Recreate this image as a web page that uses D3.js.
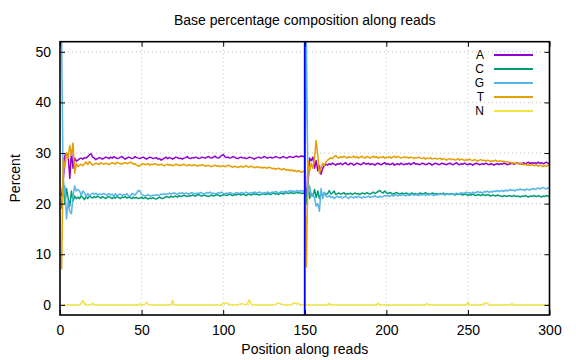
<!DOCTYPE html>
<html>
<head>
<meta charset="utf-8">
<script src="https://cdn.jsdelivr.net/npm/d3@7"></script>
<style>
  html, body { margin: 0; padding: 0; background: #fff; }
  svg { display: block; }
  text { font-family: "Liberation Sans", Arial, sans-serif; fill: #000; }
</style>
</head>
<body>
<div id="chart"></div>
<script>
// ---------- DATA ----------
const title = "Base percentage composition along reads";
const xLabel = "Position along reads";
const yLabel = "Percent";
const xTicks = [0, 50, 100, 150, 200, 250, 300];
const yTicks = [0, 10, 20, 30, 40, 50];
const readBoundary = 150;
const seriesNames = ["A", "C", "G", "T", "N"];
const seriesColors = ["#9400d3", "#009e73", "#56b4e9", "#e69f00", "#f0e442"];

const positions = d3.range(1, 301);

const baseA = [
  21.5, 24.5, 29.5, 30.0, 29.5, 25.0, 30.2, 27.0, 29.0, 28.4,
  28.6, 28.9, 29.0, 28.8, 29.1, 29.0, 29.3, 29.6, 29.9, 29.2,
  29.0, 28.7, 28.9, 29.1, 29.0, 28.8, 29.0, 29.2, 29.1, 28.9,
  29.2, 29.0, 29.3, 29.1, 28.9, 29.0, 29.2, 29.3, 29.0, 28.8,
  29.0, 29.2, 29.1, 28.9, 29.0, 29.3, 29.1, 29.0, 28.9, 29.1,
  29.2, 29.0, 28.8, 29.0, 29.2, 29.1, 28.9, 29.0, 29.1, 28.8,
  28.9, 28.6, 28.8, 29.0, 29.2, 28.9, 29.1, 29.0, 28.8, 29.0,
  29.2, 29.1, 28.9, 29.0, 28.8, 29.0, 29.1, 29.3, 29.0, 28.9,
  29.1, 29.0, 29.2, 29.1, 28.9, 29.0, 29.2, 29.1, 29.0, 29.2,
  29.3, 29.1, 29.0, 29.2, 29.4, 29.1, 29.0, 29.2, 29.5, 29.7,
  29.3, 29.1, 29.2, 29.0, 29.1, 29.3, 29.2, 29.0, 28.9, 29.1,
  29.2, 29.0, 29.1, 28.9, 29.0, 29.2, 29.1, 29.0, 28.8, 29.0,
  29.1, 29.2, 29.0, 29.1, 29.3, 29.2, 29.0, 29.1, 29.2, 29.0,
  29.1, 29.3, 29.2, 29.1, 29.0, 29.2, 29.3, 29.1, 29.0, 29.2,
  29.3, 29.2, 29.1, 29.3, 29.4, 29.2, 29.3, 29.4, 29.3, 29.4,
  20.0, 24.0, 29.0, 28.5, 29.2, 27.0, 28.5, 26.5, 27.5, 25.8,
  27.0, 27.5, 27.8, 27.6, 27.9, 27.7, 28.0, 27.8, 27.6, 27.9,
  27.8, 28.0, 27.7, 27.9, 28.1, 27.8, 27.7, 28.0, 27.9, 27.6,
  27.8, 28.0, 27.9, 27.7, 27.8, 28.1, 27.9, 27.8, 28.0, 27.7,
  27.9, 27.8, 27.6, 27.9, 28.0, 27.8, 27.7, 27.9, 28.1, 27.8,
  27.9, 27.7, 27.8, 28.0, 27.6, 27.8, 27.9, 27.7, 28.0, 27.8,
  27.7, 27.9, 27.8, 28.0, 27.7, 27.9, 28.1, 27.8, 27.9, 27.7,
  27.8, 28.0, 27.9, 27.7, 27.8, 28.0, 27.9, 27.6, 27.8, 28.0,
  27.9, 27.7, 27.8, 28.0, 27.9, 27.8, 27.7, 27.9, 28.0, 27.8,
  27.7, 27.9, 28.1, 27.8, 27.7, 27.9, 27.8, 28.0, 27.8, 27.7,
  27.9, 27.8, 27.6, 27.8, 28.0, 27.9, 27.7, 27.8, 27.9, 27.8,
  28.0, 27.8, 27.7, 27.9, 27.8, 27.6, 27.8, 27.9, 27.7, 27.9,
  27.8, 28.0, 27.9, 27.7, 27.8, 27.9, 28.0, 27.8, 27.9, 28.1,
  27.9, 28.0, 27.8, 28.1, 27.9, 28.0, 28.2, 27.9, 28.1, 28.0,
  28.1, 27.9, 28.2, 28.0, 28.1, 27.9, 28.0, 28.2, 28.0, 27.9
];

const baseC = [
  19.0, 25.0, 20.0, 23.0, 21.0, 19.5, 22.5, 20.5, 21.5, 21.0,
  21.3, 21.0, 21.6, 21.2, 20.8, 21.4, 21.0, 21.5, 21.3, 21.1,
  21.4, 21.2, 21.5, 21.3, 21.1, 21.4, 21.2, 21.0, 21.3, 21.4,
  21.2, 21.0, 21.3, 21.1, 21.4, 21.2, 21.0, 21.3, 21.2, 21.4,
  21.1, 21.3, 21.2, 21.0, 21.3, 21.1, 21.2, 21.0, 21.1, 21.3,
  21.0, 21.2, 21.1, 20.9, 21.1, 21.0, 21.2, 21.0, 20.9, 21.1,
  21.3, 21.1, 21.0, 21.2, 21.4, 21.3, 21.2, 21.5, 21.3, 21.4,
  21.5, 21.3, 21.6, 21.4, 21.5, 21.7, 21.5, 21.4, 21.6, 21.5,
  21.7, 21.6, 21.5, 21.7, 21.8, 21.6, 21.5, 21.7, 21.6, 21.5,
  21.4, 21.6, 21.7, 21.5, 21.6, 21.8, 21.7, 21.5, 21.6, 21.7,
  21.8, 21.6, 21.7, 21.9, 21.7, 21.6, 21.8, 21.7, 21.9, 21.8,
  21.7, 21.9, 21.8, 21.6, 21.8, 21.9, 21.7, 21.8, 22.0, 21.8,
  21.9, 21.7, 21.8, 22.0, 21.9, 21.8, 22.0, 21.9, 21.8, 22.0,
  22.1, 21.9, 22.0, 21.8, 22.1, 22.0, 21.9, 22.1, 22.2, 22.0,
  22.1, 22.2, 22.0, 22.1, 22.3, 22.1, 22.2, 22.0, 22.1, 22.0,
  20.0, 24.5, 21.0, 22.0, 21.5, 22.8, 21.2, 22.5, 21.0, 22.0,
  21.5, 22.2, 21.8, 22.0, 22.6, 21.9, 22.1, 22.5, 21.8, 22.0,
  22.1, 21.9, 22.0, 22.2, 21.8, 22.0, 21.9, 22.1, 21.8, 22.0,
  22.1, 21.9, 22.0, 21.8, 22.1, 22.0, 21.9, 22.2, 22.0, 21.9,
  22.1, 22.3, 22.0, 22.2, 22.4, 22.6, 22.3, 22.1, 22.5, 22.2,
  22.0, 22.2, 22.1, 21.9, 22.0, 22.2, 22.1, 21.9, 22.0, 22.1,
  21.9, 22.1, 22.0, 21.8, 22.0, 22.1, 21.9, 22.0, 21.8, 22.0,
  22.1, 21.9, 22.0, 22.2, 21.9, 22.0, 21.8, 22.1, 22.0, 21.9,
  22.0, 21.8, 22.0, 21.9, 22.1, 21.8, 22.0, 21.9, 21.8, 22.0,
  21.9, 21.7, 21.9, 21.8, 22.0, 21.8, 21.7, 21.9, 21.8, 21.6,
  21.8, 21.7, 21.9, 21.7, 21.6, 21.8, 21.7, 21.6, 21.8, 21.7,
  21.6, 21.8, 21.7, 21.5, 21.7, 21.6, 21.5, 21.7, 21.6, 21.5,
  21.4, 21.6, 21.5, 21.4, 21.6, 21.5, 21.4, 21.6, 21.5, 21.4,
  21.5, 21.3, 21.5, 21.4, 21.6, 21.5, 21.3, 21.5, 21.4, 21.6,
  21.5, 21.4, 21.6, 21.5, 21.3, 21.5, 21.4, 21.6, 21.5, 21.4
];

const baseG = [
  52.5, 21.5, 23.5, 17.0, 20.5, 18.5, 18.0, 21.5, 23.5, 22.5,
  22.8, 22.5, 21.6, 22.5, 22.2, 21.4, 22.0, 21.6, 21.8, 22.1,
  21.8, 22.1, 21.7, 21.9, 21.8, 21.9, 22.0, 21.8, 21.7, 22.0,
  21.7, 21.9, 21.4, 22.0, 21.5, 21.8, 21.9, 21.6, 21.8, 21.7,
  22.0, 21.5, 21.5, 22.0, 21.9, 21.7, 22.1, 22.6, 22.5, 21.8,
  21.7, 21.5, 21.6, 21.8, 21.6, 21.5, 21.7, 21.6, 21.8, 21.6,
  21.7, 21.9, 21.8, 22.0, 21.8, 21.9, 22.1, 21.9, 22.0, 22.1,
  22.0, 21.8, 22.1, 22.0, 22.2, 21.9, 22.1, 22.0, 21.9, 22.1,
  22.2, 22.0, 21.9, 22.1, 22.0, 22.2, 22.1, 21.9, 22.0, 22.2,
  22.1, 22.3, 22.0, 22.1, 21.9, 22.0, 22.2, 22.1, 22.3, 22.0,
  21.9, 22.1, 22.0, 22.2, 22.1, 21.9, 22.0, 22.2, 22.1, 22.0,
  22.2, 22.1, 22.0, 22.3, 22.1, 22.0, 22.2, 22.1, 22.3, 22.2,
  22.1, 22.3, 22.2, 22.0, 22.2, 22.1, 22.3, 22.2, 22.1, 22.3,
  22.2, 22.4, 22.3, 22.1, 22.3, 22.4, 22.2, 22.5, 22.3, 22.4,
  22.6, 22.4, 22.5, 22.3, 22.6, 22.5, 22.4, 22.6, 22.5, 22.4,
  52.5, 22.0, 23.5, 21.5, 22.0, 21.0, 19.5, 20.0, 18.5, 23.0,
  21.0, 22.2, 21.5, 21.3, 21.6, 21.2, 21.4, 21.0, 21.3, 21.5,
  21.2, 21.4, 21.1, 21.3, 21.5, 21.2, 21.0, 21.4, 21.3, 21.1,
  21.4, 21.2, 21.5, 21.3, 21.1, 21.4, 21.2, 21.3, 21.5, 21.2,
  21.4, 21.3, 21.6, 21.4, 21.2, 21.5, 21.3, 21.4, 21.6, 21.5,
  21.6, 21.4, 21.7, 21.5, 21.6, 21.8, 21.5, 21.7, 21.6, 21.8,
  21.7, 21.5, 21.8, 21.6, 21.7, 21.9, 21.6, 21.8, 21.7, 21.6,
  21.8, 21.7, 21.9, 21.6, 21.8, 21.7, 21.9, 21.8, 21.6, 21.8,
  21.7, 21.9, 21.8, 22.0, 21.8, 21.7, 21.9, 21.8, 22.0, 21.9,
  22.0, 21.8, 22.1, 21.9, 22.0, 22.2, 22.0, 22.1, 22.3, 22.1,
  22.2, 22.0, 22.3, 22.1, 22.2, 22.4, 22.2, 22.3, 22.1, 22.4,
  22.3, 22.5, 22.2, 22.4, 22.3, 22.5, 22.4, 22.6, 22.4, 22.5,
  22.6, 22.4, 22.7, 22.5, 22.6, 22.8, 22.6, 22.7, 22.5, 22.8,
  22.7, 22.9, 22.7, 22.8, 22.6, 22.9, 22.8, 22.7, 22.9, 23.0,
  22.8, 22.9, 23.1, 22.9, 23.0, 23.2, 23.0, 22.9, 23.1, 23.0
];

const baseT = [
  7.0, 29.0, 27.0, 30.0, 29.0, 31.5, 29.5, 32.0, 26.0, 28.0,
  27.3, 27.6, 27.8, 27.5, 27.9, 28.2, 27.7, 28.3, 28.0, 27.6,
  27.8, 28.0, 27.9, 27.7, 28.1, 27.9, 27.8, 28.0, 27.9, 27.7,
  27.9, 28.1, 28.0, 27.8, 28.2, 28.0, 27.9, 27.8, 28.0, 28.1,
  27.9, 28.0, 28.2, 28.1, 27.8, 27.9, 27.6, 27.4, 27.5, 27.8,
  27.9, 27.7, 27.8, 27.9, 27.6, 27.8, 27.7, 27.9, 27.8, 27.6,
  27.7, 27.8, 27.6, 27.5, 27.7, 27.8, 27.6, 27.7, 27.5, 27.6,
  27.8, 27.7, 27.5, 27.6, 27.7, 27.8, 27.6, 27.5, 27.7, 27.6,
  27.5, 27.7, 27.6, 27.4, 27.6, 27.5, 27.7, 27.6, 27.4, 27.5,
  27.6, 27.4, 27.3, 27.5, 27.6, 27.4, 27.5, 27.3, 27.4, 27.5,
  27.3, 27.4, 27.6, 27.5, 27.3, 27.2, 27.4, 27.3, 27.1, 27.3,
  27.4, 27.2, 27.3, 27.5, 27.3, 27.2, 27.4, 27.3, 27.1, 27.2,
  27.3, 27.1, 27.2, 27.0, 27.2, 27.1, 27.0, 27.2, 27.1, 26.9,
  27.0, 26.8, 26.9, 27.0, 26.8, 26.7, 26.9, 26.8, 26.6, 26.7,
  26.5, 26.7, 26.4, 26.6, 26.3, 26.5, 26.4, 26.2, 26.4, 26.3,
  7.5, 28.5, 26.5, 28.0, 27.0, 29.0, 32.5, 29.5, 26.0, 27.0,
  28.0, 27.6, 28.2, 28.6, 28.8, 29.1, 28.9, 29.3, 29.5, 29.2,
  29.0, 29.3, 29.1, 29.4, 29.2, 29.0, 29.3, 29.1, 29.2, 29.4,
  29.1, 29.3, 29.0, 29.2, 29.4, 29.1, 29.0, 29.3, 29.2, 29.0,
  29.2, 29.4, 29.1, 29.3, 29.0, 29.2, 29.1, 29.3, 29.0, 29.2,
  29.1, 29.3, 29.0, 29.2, 29.4, 29.1, 29.3, 29.2, 29.0, 29.1,
  29.3, 29.1, 29.2, 29.0, 29.2, 29.1, 28.9, 29.1, 29.0, 29.2,
  29.0, 28.9, 29.1, 28.8, 29.0, 28.9, 29.1, 28.8, 28.9, 29.0,
  28.8, 28.9, 29.0, 28.7, 28.9, 28.8, 28.6, 28.8, 28.9, 28.7,
  28.8, 28.6, 28.7, 28.9, 28.6, 28.8, 28.7, 28.5, 28.7, 28.6,
  28.8, 28.6, 28.5, 28.7, 28.6, 28.4, 28.6, 28.7, 28.5, 28.6,
  28.4, 28.6, 28.5, 28.3, 28.5, 28.4, 28.6, 28.3, 28.4, 28.5,
  28.3, 28.4, 28.2, 28.3, 28.1, 28.2, 28.0, 28.1, 27.9, 28.0,
  27.9, 27.8, 28.0, 27.7, 27.8, 27.6, 27.7, 27.5, 27.7, 27.6,
  27.5, 27.7, 27.4, 27.6, 27.5, 27.3, 27.5, 27.4, 27.6, 27.5
];

const baseN = [
  0, 0, 0, 0, 0, 0, 0, 0, 0, 0,
  0, 0, 0.3, 0.85, 0.3, 0, 0, 0, 0.1, 0.3,
  0, 0, 0, 0, 0, 0, 0, 0, 0, 0,
  0, 0, 0, 0, 0, 0, 0, 0, 0, 0,
  0, 0, 0, 0, 0, 0, 0, 0, 0.2, 0,
  0, 0.1, 0.55, 0.1, 0, 0, 0, 0, 0, 0,
  0, 0, 0, 0, 0, 0, 0, 0, 0.9, 0,
  0, 0, 0, 0, 0, 0, 0, 0, 0, 0,
  0, 0, 0, 0, 0, 0, 0, 0, 0, 0,
  0, 0, 0, 0, 0, 0, 0, 0, 0, 0.3,
  0.3, 0.3, 0.25, 0, 0, 0, 0, 0, 0, 0.15,
  0.2, 0.2, 0.1, 0, 0.3, 1.0, 0.2, 0, 0, 0,
  0, 0, 0, 0, 0, 0, 0, 0, 0, 0,
  0, 0.1, 0.3, 0.3, 0.25, 0.1, 0, 0, 0, 0,
  0, 0.1, 0.3, 0.3, 0.25, 0.3, 0, 0, 0, 0,
  0, 0, 0, 0, 0, 0, 0, 0, 0, 0,
  0, 0, 0, 0, 0.3, 0, 0, 0, 0, 0,
  0, 0, 0, 0, 0, 0, 0, 0, 0, 0,
  0, 0, 0, 0, 0, 0, 0, 0, 0, 0,
  0, 0, 0, 0, 0.3, 0, 0, 0, 0, 0,
  0, 0, 0, 0, 0, 0, 0, 0, 0, 0,
  0, 0, 0, 0, 0, 0, 0, 0, 0, 0,
  0, 0, 0, 0, 0.25, 0, 0, 0, 0, 0,
  0, 0, 0, 0, 0, 0, 0, 0, 0, 0,
  0, 0, 0, 0, 0, 0, 0, 0, 0, 0.5,
  0, 0, 0, 0, 0, 0, 0, 0, 0, 0.3,
  0.3, 0.3, 0, 0, 0, 0, 0, 0, 0, 0,
  0, 0, 0, 0, 0, 0, 0.25, 0, 0, 0,
  0, 0, 0, 0, 0, 0, 0, 0, 0, 0,
  0, 0, 0, 0, 0, 0, 0, 0, 0, 0
];

const seriesValues = [baseA, baseC, baseG, baseT, baseN];

// ---------- LAYOUT ----------
const W = 576, H = 360;
const plot = { left: 60, right: 549.5, top: 41.7, bottom: 315 };

const x = d3.scaleLinear().domain([0, 300]).range([plot.left, plot.right]);
const y = d3.scaleLinear().domain([-2, 52]).range([plot.bottom, plot.top]);

const svg = d3.select("#chart").append("svg")
  .attr("width", W).attr("height", H)
  .attr("viewBox", `0 0 ${W} ${H}`);

svg.append("defs").append("clipPath").attr("id", "clip")
  .append("rect")
  .attr("x", plot.left).attr("y", plot.top)
  .attr("width", plot.right - plot.left).attr("height", plot.bottom - plot.top);

// grid
const grid = svg.append("g").attr("stroke", "#b4b4b4").attr("stroke-width", 0.8)
  .attr("stroke-dasharray", "1,3");
grid.selectAll(".gx").data(xTicks.filter(t => t > 0 && t < 300)).join("line")
  .attr("x1", d => x(d)).attr("x2", d => x(d))
  .attr("y1", plot.top).attr("y2", plot.bottom);
grid.selectAll(".gy").data(yTicks).join("line")
  .attr("x1", plot.left).attr("x2", plot.right)
  .attr("y1", d => y(d)).attr("y2", d => y(d));

// data lines
const lines = svg.append("g").attr("clip-path", "url(#clip)");
const lineGen = d3.line().x((d, i) => x(positions[i])).y(d => y(d));
seriesNames.forEach((name, k) => {
  lines.append("path")
    .datum(seriesValues[k])
    .attr("fill", "none")
    .attr("stroke", seriesColors[k])
    .attr("stroke-width", 1.5)
    .attr("stroke-linejoin", "round")
    .attr("d", lineGen);
});

// read boundary
svg.append("line")
  .attr("x1", x(readBoundary)).attr("x2", x(readBoundary))
  .attr("y1", plot.top).attr("y2", plot.bottom)
  .attr("stroke", "#0000ff").attr("stroke-width", 1.8);

// axes (ticks inward, mirrored)
const tickLen = 5;
const axB = d3.axisBottom(x).tickValues(xTicks).tickSize(-tickLen).tickPadding(10).tickFormat(d3.format("d"));
const axT = d3.axisTop(x).tickValues(xTicks).tickSize(-tickLen).tickFormat("");
const axL = d3.axisLeft(y).tickValues(yTicks).tickSize(-tickLen).tickPadding(9).tickFormat(d3.format("d"));
const axR = d3.axisRight(y).tickValues(yTicks).tickSize(-tickLen).tickFormat("");

function styleAxis(g) {
  g.select(".domain").remove();
  g.selectAll(".tick line").attr("stroke", "#000").attr("stroke-width", 1);
  g.selectAll("text").attr("font-family", "Liberation Sans, Arial, sans-serif")
    .attr("font-size", 14).attr("fill", "#000");
}
svg.append("g").attr("transform", `translate(0,${plot.bottom})`).call(axB).call(styleAxis);
svg.append("g").attr("transform", `translate(0,${plot.top})`).call(axT).call(styleAxis);
svg.append("g").attr("transform", `translate(${plot.left},0)`).call(axL).call(styleAxis);
svg.append("g").attr("transform", `translate(${plot.right},0)`).call(axR).call(styleAxis);

// frame
svg.append("rect")
  .attr("x", plot.left).attr("y", plot.top)
  .attr("width", plot.right - plot.left).attr("height", plot.bottom - plot.top)
  .attr("fill", "none").attr("stroke", "#000").attr("stroke-width", 1.6);

// title & labels
svg.append("text").attr("x", (plot.left + plot.right) / 2).attr("y", 25)
  .attr("text-anchor", "middle").attr("font-size", 14).text(title);
svg.append("text").attr("x", (plot.left + plot.right) / 2).attr("y", 354)
  .attr("text-anchor", "middle").attr("font-size", 14).text(xLabel);
svg.append("text")
  .attr("transform", `translate(20,${(plot.top + plot.bottom) / 2}) rotate(-90)`)
  .attr("text-anchor", "middle").attr("font-size", 14).text(yLabel);

// legend
const legend = svg.append("g");
const legY0 = 55, legDy = 14;
seriesNames.forEach((name, k) => {
  const yy = legY0 + k * legDy;
  legend.append("text").attr("x", 484).attr("y", yy).attr("dy", "0.36em")
    .attr("text-anchor", "end").attr("font-size", 12).text(name);
  legend.append("line").attr("x1", 494).attr("x2", 533).attr("y1", yy).attr("y2", yy)
    .attr("stroke", seriesColors[k]).attr("stroke-width", 2);
});
</script>
</body>
</html>
